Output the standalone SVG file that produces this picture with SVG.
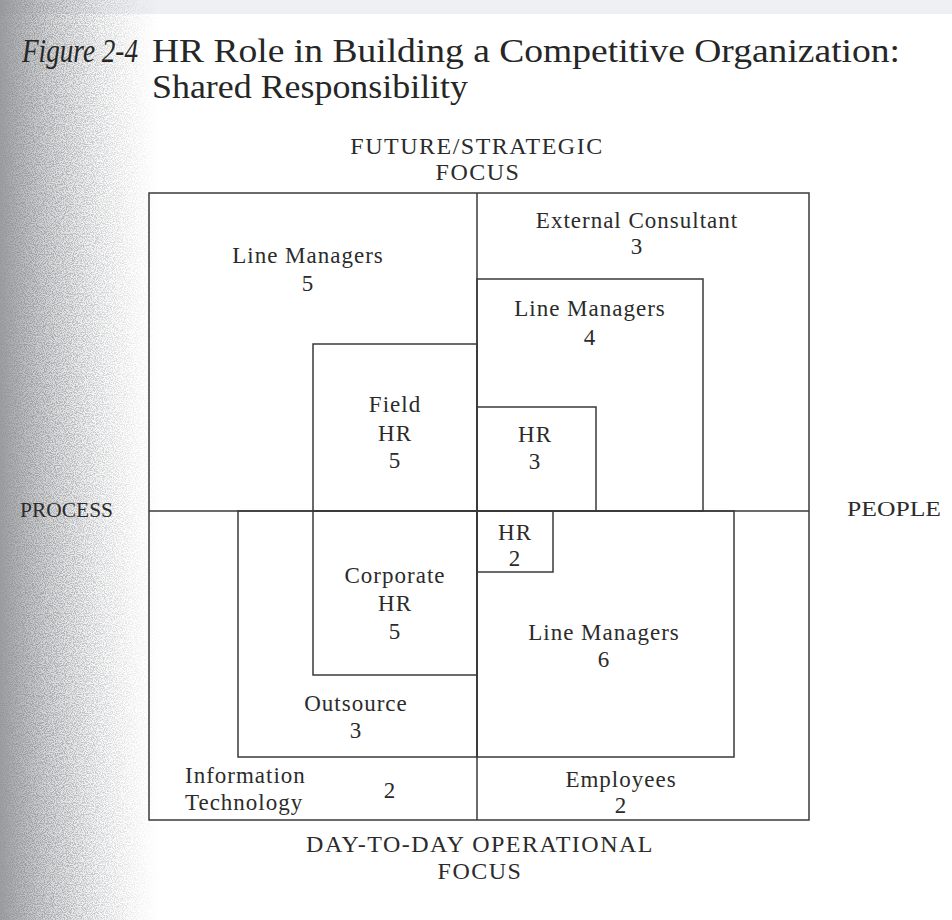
<svg xmlns="http://www.w3.org/2000/svg" width="952" height="920" viewBox="0 0 952 920">
  <defs>
    <style>
      .t { font-family: "Liberation Serif", "Times New Roman", serif; fill: #2b2b2b; }
      .lbl { font-size: 23px; letter-spacing: 1px; text-anchor: middle; }
      .axis { font-size: 24px; letter-spacing: 1.5px; text-anchor: middle; }
      .side { font-size: 21px; }
      .title { font-size: 33px; fill: #262626; }
      .box { fill: none; stroke: #3a3a3a; stroke-width: 1.5; }
    </style>
    <!-- grey fade along the scanned page edge -->
    <linearGradient id="edgeShade" x1="0" y1="0" x2="1" y2="0">
      <stop offset="0" stop-color="#7c7e82" stop-opacity="0.75"/>
      <stop offset="0.3" stop-color="#989a9d" stop-opacity="0.42"/>
      <stop offset="0.7" stop-color="#c8c9cb" stop-opacity="0.1"/>
      <stop offset="1" stop-color="#ffffff" stop-opacity="0"/>
    </linearGradient>
    <linearGradient id="edgeFade" x1="0" y1="0" x2="1" y2="0">
      <stop offset="0" stop-color="#fff" stop-opacity="1"/>
      <stop offset="0.45" stop-color="#fff" stop-opacity="0.6"/>
      <stop offset="1" stop-color="#fff" stop-opacity="0"/>
    </linearGradient>
    <mask id="edgeMask" maskUnits="userSpaceOnUse" x="0" y="0" width="160" height="920">
      <rect x="0" y="0" width="160" height="920" fill="url(#edgeFade)"/>
    </mask>
    <filter id="grain" x="0" y="0" width="100%" height="100%">
      <feTurbulence type="fractalNoise" baseFrequency="0.9" numOctaves="2" seed="7" result="n"/>
      <feColorMatrix in="n" type="matrix"
        values="0 0 0 0 0.3
                0 0 0 0 0.31
                0 0 0 0 0.33
                4 0 0 0 -1.6"/>
    </filter>
  </defs>

  <!-- paper -->
  <rect x="0" y="0" width="952" height="920" fill="#ffffff"/>
  <rect x="0" y="0" width="952" height="14" fill="#eef0f3"/>
  <rect x="0" y="0" width="150" height="920" fill="url(#edgeShade)"/>
  <rect x="0" y="0" width="160" height="920" filter="url(#grain)" mask="url(#edgeMask)"/>

  <!-- heading -->
  <g id="heading">
    <text class="t title" x="22" y="62" font-style="italic" textLength="116" lengthAdjust="spacingAndGlyphs">Figure 2-4</text>
    <text class="t title" x="152" y="62" textLength="748" lengthAdjust="spacingAndGlyphs">HR Role in Building a Competitive Organization:</text>
    <text class="t title" x="152" y="98" textLength="316" lengthAdjust="spacingAndGlyphs">Shared Responsibility</text>
  </g>

  <!-- axis captions -->
  <g id="axis-labels">
    <text class="t axis" x="477" y="154">FUTURE/STRATEGIC</text>
    <text class="t axis" x="478" y="180">FOCUS</text>
    <text class="t side" x="20" y="517" textLength="93" lengthAdjust="spacingAndGlyphs">PROCESS</text>
    <text class="t side" x="847" y="516" textLength="94" lengthAdjust="spacingAndGlyphs">PEOPLE</text>
    <text class="t axis" x="480" y="852">DAY-TO-DAY OPERATIONAL</text>
    <text class="t axis" x="480" y="879">FOCUS</text>
  </g>

  <!-- frame and quadrant dividers -->
  <g id="quadrant-lines">
    <rect class="box" x="149" y="193" width="660" height="627"/>
    <line class="box" x1="477" y1="193" x2="477" y2="820"/>
    <line class="box" x1="149" y1="511" x2="809" y2="511"/>
  </g>

  <!-- nodes -->
  <g id="line-managers-5">
    <text class="t lbl" x="308" y="263">Line Managers</text>
    <text class="t lbl" x="308" y="291">5</text>
  </g>

  <g id="external-consultant">
    <text class="t lbl" x="637" y="228">External Consultant</text>
    <text class="t lbl" x="637" y="254">3</text>
  </g>

  <g id="line-managers-4">
    <rect class="box" x="477" y="279" width="226" height="232"/>
    <text class="t lbl" x="590" y="316">Line Managers</text>
    <text class="t lbl" x="590" y="345">4</text>
  </g>

  <g id="hr-3">
    <rect class="box" x="477" y="407" width="119" height="104"/>
    <text class="t lbl" x="535" y="442">HR</text>
    <text class="t lbl" x="535" y="469">3</text>
  </g>

  <g id="field-hr">
    <rect class="box" x="313" y="344" width="164" height="167"/>
    <text class="t lbl" x="395" y="412">Field</text>
    <text class="t lbl" x="395" y="441">HR</text>
    <text class="t lbl" x="395" y="468">5</text>
  </g>

  <g id="outsource">
    <rect class="box" x="238" y="511" width="239" height="246"/>
    <text class="t lbl" x="356" y="711">Outsource</text>
    <text class="t lbl" x="356" y="738">3</text>
  </g>

  <g id="corporate-hr">
    <rect class="box" x="313" y="511" width="164" height="164"/>
    <text class="t lbl" x="395" y="583">Corporate</text>
    <text class="t lbl" x="395" y="611">HR</text>
    <text class="t lbl" x="395" y="639">5</text>
  </g>

  <g id="line-managers-6">
    <rect class="box" x="477" y="511" width="257" height="246"/>
    <text class="t lbl" x="604" y="640">Line Managers</text>
    <text class="t lbl" x="604" y="667">6</text>
  </g>

  <g id="hr-2">
    <rect class="box" x="477" y="511" width="76" height="61"/>
    <text class="t lbl" x="515" y="540">HR</text>
    <text class="t lbl" x="515" y="566">2</text>
  </g>

  <g id="information-technology">
    <text class="t lbl" x="185" y="783" style="text-anchor:start">Information</text>
    <text class="t lbl" x="185" y="810" style="text-anchor:start">Technology</text>
    <text class="t lbl" x="390" y="798">2</text>
  </g>

  <g id="employees">
    <text class="t lbl" x="621" y="787">Employees</text>
    <text class="t lbl" x="621" y="813">2</text>
  </g>
</svg>
